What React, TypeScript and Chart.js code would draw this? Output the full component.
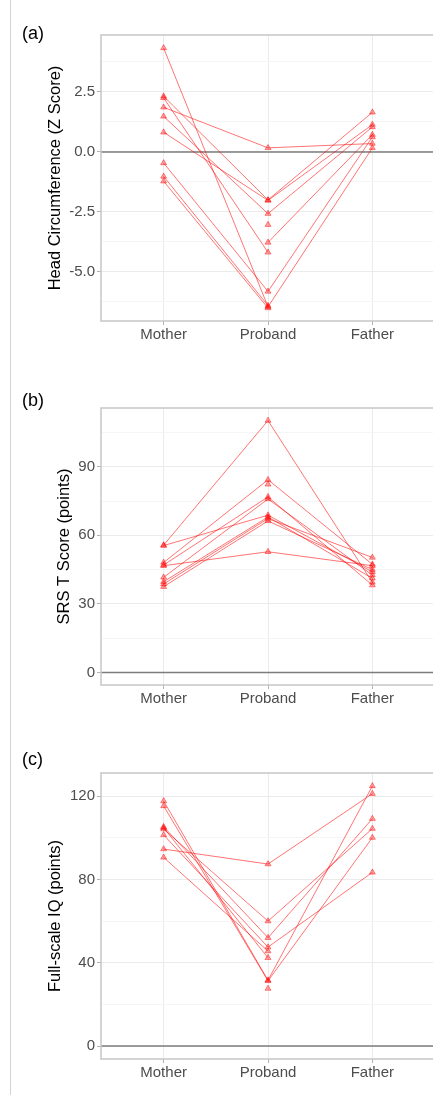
import React, { useEffect, useRef } from 'react';
import { Chart, registerables } from 'chart.js';

Chart.register(...registerables);

const FONT = '"Liberation Sans", Arial, Helvetica, sans-serif';
Chart.defaults.font.family = FONT;

const members = ['Mother', 'Proband', 'Father'];

// (a) Head circumference, Z score — one entry per family
const hcMother = [4.33, 2.32, 2.25, 1.86, 1.48, 0.82, -0.46, -1.02, -1.22, null, null];
const hcProband = [-6.45, -2.0, -4.18, 0.17, -2.57, -2.02, -5.81, -6.4, -6.5, -3.77, -3.03];
const hcFather = [0.17, 1.65, null, 0.35, 1.04, 1.14, 0.62, null, null, 0.72, null];
const hcTicks = [-5, -2.5, 0, 2.5];
const hcTickLabels = ['-5.0', '-2.5', '0.0', '2.5'];
const hcMinorTicks = [-6.25, -3.75, -1.25, 1.25, 3.75];

// (b) SRS T score, points
const srsMother = [55.7, 55.5, 48.1, 46.7, 47.0, 41.6, 39.7, 38.7, 37.5, null];
const srsProband = [110.2, 68.8, 84.3, 52.8, 76.8, 75.9, 68.0, 67.3, 66.3, 82.3];
const srsFather = [39.4, 44.0, 47.3, 46.7, 38.2, 42.6, 41.2, 50.3, 45.0, null];
const srsTicks = [0, 30, 60, 90];
const srsTickLabels = ['0', '30', '60', '90'];
const srsMinorTicks = [15, 45, 75, 105];

// (c) Full-scale IQ, points
const iqMother = [94.6, 117.7, 115.3, 105.3, 104.2, 101.4, 90.6, 104.8, null];
const iqProband = [87.4, 31.6, 31.3, 52.0, 60.0, 47.5, 45.6, 42.4, 27.6];
const iqFather = [121.2, 124.9, 100.1, 109.2, 104.4, 83.4, null, null, null];
const iqTicks = [0, 40, 80, 120];
const iqTickLabels = ['0', '40', '80', '120'];
const iqMinorTicks = [20, 60, 100];

type PanelSpec = {
  tag: string;
  yTitle: string;
  mother: (number | null)[];
  proband: (number | null)[];
  father: (number | null)[];
  ticks: number[];
  tickLabels: string[];
  minor: number[];
  top: number;
  plotHeight: number;
  padLeft: number;
  tagTop: number;
};

const panels: PanelSpec[] = [
  {
    tag: '(a)', yTitle: 'Head Circumference (Z Score)',
    mother: hcMother, proband: hcProband, father: hcFather,
    ticks: hcTicks, tickLabels: hcTickLabels, minor: hcMinorTicks,
    top: 0, plotHeight: 286, padLeft: 46, tagTop: 23,
  },
  {
    tag: '(b)', yTitle: 'SRS T Score (points)',
    mother: srsMother, proband: srsProband, father: srsFather,
    ticks: srsTicks, tickLabels: srsTickLabels, minor: srsMinorTicks,
    top: 373, plotHeight: 277, padLeft: 55, tagTop: 390,
  },
  {
    tag: '(c)', yTitle: 'Full-scale IQ (points)',
    mother: iqMother, proband: iqProband, father: iqFather,
    ticks: iqTicks, tickLabels: iqTickLabels, minor: iqMinorTicks,
    top: 738, plotHeight: 286, padLeft: 46, tagTop: 749,
  },
];

const PLOT_TOP = 35;
const X_AXIS_H = 24;
const PLOT_LEFT = 101;
const CANVAS_W = 445;

// Reference line at y = 0, drawn beneath the family lines
const zeroLine = {
  id: 'zeroLine',
  beforeDatasetsDraw(chart: any) {
    const { ctx, chartArea, scales } = chart;
    const py = scales.y.getPixelForValue(0);
    ctx.save();
    ctx.strokeStyle = '#7d7d7d';
    ctx.lineWidth = 1.5;
    ctx.beginPath();
    ctx.moveTo(chartArea.left, py);
    ctx.lineTo(chartArea.right, py);
    ctx.stroke();
    ctx.restore();
  },
};

// Frame around the plotting area
const panelFrame = {
  id: 'panelFrame',
  afterDatasetsDraw(chart: any) {
    const { ctx, chartArea } = chart;
    ctx.save();
    ctx.strokeStyle = '#c6c6c6';
    ctx.lineWidth = 1.5;
    ctx.strokeRect(chartArea.left, chartArea.top, chartArea.right - chartArea.left, chartArea.bottom - chartArea.top);
    ctx.restore();
  },
};

function Panel({ spec }: { spec: PanelSpec }) {
  const ref = useRef<HTMLCanvasElement | null>(null);
  const canvasH = PLOT_TOP + spec.plotHeight + X_AXIS_H;

  useEffect(() => {
    if (!ref.current) return;
    const values = [...spec.mother, ...spec.proband, ...spec.father].filter(
      (v): v is number => v != null
    );
    const lo = Math.min(0, ...values);
    const hi = Math.max(0, ...values);
    const pad = (hi - lo) * 0.05;

    const majorSet = new Set(spec.ticks);
    const labelOf = new Map(spec.ticks.map((v, i) => [v, spec.tickLabels[i]]));
    const yTickValues = [...spec.ticks, ...spec.minor].sort((a, b) => a - b);

    const datasets = spec.mother.map((_, i) => ({
      data: [
        { x: 1, y: spec.mother[i] },
        { x: 2, y: spec.proband[i] },
        { x: 3, y: spec.father[i] },
      ],
      borderColor: 'rgba(255, 0, 0, 0.55)',
      borderWidth: 1,
      pointStyle: 'triangle',
      pointRadius: 3.4,
      pointBackgroundColor: 'rgba(255, 0, 0, 0.35)',
      pointBorderColor: 'rgba(255, 0, 0, 0.45)',
      pointBorderWidth: 1,
      spanGaps: false,
      tension: 0,
    }));

    const chart = new Chart(ref.current, {
      type: 'line',
      data: { datasets } as any,
      options: {
        animation: false,
        responsive: false,
        events: [],
        layout: { padding: { top: PLOT_TOP, left: spec.padLeft, right: CANVAS_W - 435, bottom: 0 } },
        plugins: { legend: { display: false }, tooltip: { enabled: false } },
        scales: {
          x: {
            type: 'linear',
            min: 0.4,
            max: 3.6,
            bounds: 'data',
            afterBuildTicks: (sc: any) => {
              sc.ticks = members.map((_, i) => ({ value: i + 1 }));
            },
            afterFit: (sc: any) => {
              sc.height = X_AXIS_H;
            },
            ticks: {
              autoSkip: false,
              maxRotation: 0,
              color: '#4d4d4d',
              font: { size: 15 },
              padding: 1,
              callback: (v: any) => members[Math.round(Number(v)) - 1] ?? '',
            },
            grid: { color: '#ebebeb', lineWidth: 1, tickColor: '#b3b3b3', tickLength: 4 },
            border: { display: false },
          },
          y: {
            type: 'linear',
            min: lo - pad,
            max: hi + pad,
            bounds: 'data',
            afterBuildTicks: (sc: any) => {
              sc.ticks = yTickValues.map((v) => ({ value: v }));
            },
            afterFit: (sc: any) => {
              sc.width = PLOT_LEFT - spec.padLeft;
            },
            ticks: {
              autoSkip: false,
              color: '#4d4d4d',
              font: { size: 15 },
              padding: 2,
              callback: (v: any) => labelOf.get(Number(v)) ?? '',
            },
            grid: {
              color: (c: any) => (majorSet.has(c.tick?.value) ? '#ebebeb' : '#f5f5f5'),
              lineWidth: 1,
              tickColor: (c: any) => (majorSet.has(c.tick?.value) ? '#b3b3b3' : 'rgba(0,0,0,0)'),
              tickLength: 4,
            },
            border: { display: false },
            title: {
              display: true,
              text: spec.yTitle,
              color: '#000000',
              font: { size: 16.5 },
              padding: 0,
            },
          },
        },
      } as any,
      plugins: [zeroLine, panelFrame],
    });
    return () => chart.destroy();
  }, [spec]);

  return (
    <canvas
      ref={ref}
      width={CANVAS_W}
      height={canvasH}
      style={{ position: 'absolute', left: 0, top: spec.top, width: CANVAS_W, height: canvasH }}
    />
  );
}

export default function App() {
  return (
    <div
      style={{
        position: 'absolute',
        left: 0,
        top: 0,
        width: 433,
        height: 1095,
        overflow: 'hidden',
        background: '#ffffff',
        fontFamily: FONT,
      }}
    >
      <div style={{ position: 'absolute', left: 10, top: 0, width: 1, height: 1095, background: '#d2d2d2' }} />
      {panels.map((p) => (
        <React.Fragment key={p.tag}>
          <Panel spec={p} />
          <div
            style={{
              position: 'absolute',
              left: 22,
              top: p.tagTop,
              fontSize: 18,
              lineHeight: '20px',
              color: '#000',
            }}
          >
            {p.tag}
          </div>
        </React.Fragment>
      ))}
    </div>
  );
}
